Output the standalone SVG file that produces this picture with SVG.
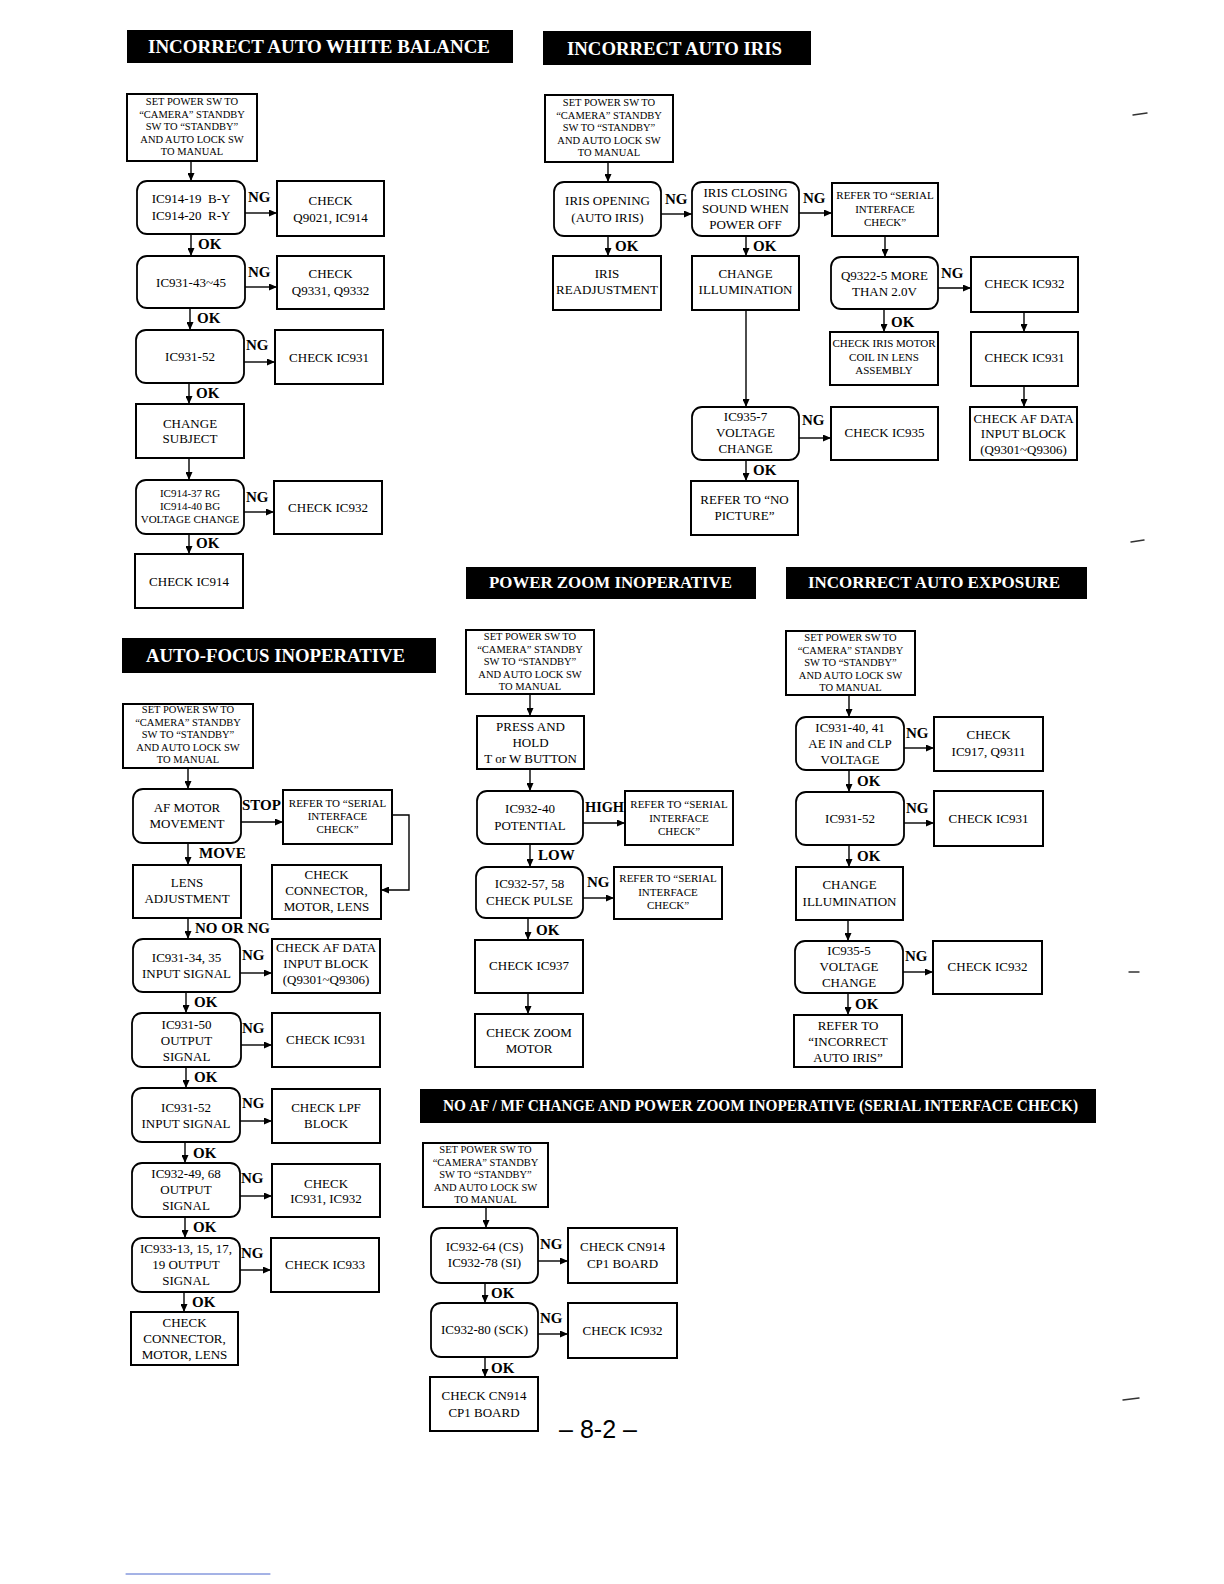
<svg xmlns="http://www.w3.org/2000/svg" width="1224" height="1584" viewBox="0 0 1224 1584">
<style>
.bg{fill:#fff}
.bar{fill:#000}
.ttl{font-family:"Liberation Serif",serif;font-weight:bold;font-size:19px;fill:#fff;text-anchor:middle}
.ttl2{font-family:"Liberation Serif",serif;font-weight:bold;font-size:17px;fill:#fff;text-anchor:middle}
.b{fill:#fff;stroke:#000;stroke-width:2}
.r{fill:#fff;stroke:#000;stroke-width:1.8}
.t{font-family:"Liberation Serif",serif;font-size:13px;fill:#000;text-anchor:middle;white-space:pre}
.s{font-family:"Liberation Serif",serif;font-size:10.5px;fill:#000;text-anchor:middle}
.m{font-family:"Liberation Serif",serif;font-size:11px;fill:#000;text-anchor:middle}
.lb{font-family:"Liberation Serif",serif;font-weight:bold;font-size:15px;fill:#000}
.c{fill:none;stroke:#000;stroke-width:1.4;marker-end:url(#ah)}
.pg{font-family:"Liberation Sans",Arial,sans-serif;font-size:25px;fill:#000;text-anchor:middle}
</style>
<defs>
<marker id="ah" markerUnits="userSpaceOnUse" markerWidth="8" markerHeight="7" refX="8" refY="3.5" orient="auto">
<path d="M0,0 L8,3.5 L0,7 z" fill="#000"/>
</marker>
</defs>
<rect class="bg" x="0" y="0" width="1224" height="1584"/>

<!-- Titles -->
<g id="titles">
<rect class="bar" x="127" y="30" width="386" height="33"/>
<text class="ttl" x="319" y="53" textLength="342" lengthAdjust="spacingAndGlyphs">INCORRECT AUTO WHITE BALANCE</text>
<rect class="bar" x="543" y="31" width="268" height="34"/>
<text class="ttl" x="674.5" y="55" textLength="215" lengthAdjust="spacingAndGlyphs">INCORRECT AUTO IRIS</text>
<rect class="bar" x="122" y="638" width="314" height="35"/>
<text class="ttl" x="275.5" y="662" textLength="259" lengthAdjust="spacingAndGlyphs">AUTO-FOCUS INOPERATIVE</text>
<rect class="bar" x="466" y="567" width="290" height="32"/>
<text class="ttl2" x="610.5" y="588" textLength="243" lengthAdjust="spacingAndGlyphs">POWER ZOOM INOPERATIVE</text>
<rect class="bar" x="786" y="567" width="301" height="32"/>
<text class="ttl2" x="934" y="588" textLength="252" lengthAdjust="spacingAndGlyphs">INCORRECT AUTO EXPOSURE</text>
<rect class="bar" x="420" y="1089" width="676" height="34"/>
<text class="ttl2" x="760.5" y="1111" textLength="635" lengthAdjust="spacingAndGlyphs">NO AF / MF CHANGE AND POWER ZOOM INOPERATIVE (SERIAL INTERFACE CHECK)</text>
</g>

<!-- Connectors -->
<g id="connectors">
<!-- AWB -->
<path class="c" d="M191,161 V181"/>
<path class="c" d="M245,213 H277"/>
<path class="c" d="M191,234 V256"/>
<path class="c" d="M245,287 H277"/>
<path class="c" d="M190,308 V330"/>
<path class="c" d="M244,362 H275"/>
<path class="c" d="M189,383 V404"/>
<path class="c" d="M189,458 V480"/>
<path class="c" d="M244,512 H274"/>
<path class="c" d="M189,534 V554"/>
<!-- Iris -->
<path class="c" d="M608,162 V182"/>
<path class="c" d="M661,214 H692"/>
<path class="c" d="M799,213 H832"/>
<path class="c" d="M608,236 V256"/>
<path class="c" d="M746,236 V256"/>
<path class="c" d="M746,310 V407"/>
<path class="c" d="M885,236 V257"/>
<path class="c" d="M938,288 H971"/>
<path class="c" d="M884,309 V332"/>
<path class="c" d="M1024,312 V332"/>
<path class="c" d="M1024,386 V407"/>
<path class="c" d="M799,438 H831"/>
<path class="c" d="M746,460 V481"/>
<!-- AF -->
<path class="c" d="M188,768 V789"/>
<path class="c" d="M241,822 H283"/>
<path class="c" d="M392,815 H409 V890 H381"/>
<path class="c" d="M188,843 V865"/>
<path class="c" d="M188,918 V939"/>
<path class="c" d="M240,973 H272"/>
<path class="c" d="M186,992 V1013"/>
<path class="c" d="M241,1045 H272"/>
<path class="c" d="M186,1067 V1088"/>
<path class="c" d="M240,1121 H272"/>
<path class="c" d="M185,1142 V1163"/>
<path class="c" d="M240,1196 H272"/>
<path class="c" d="M185,1217 V1238"/>
<path class="c" d="M240,1270 H271"/>
<path class="c" d="M184,1292 V1312"/>
<!-- PZ -->
<path class="c" d="M530,694 V716"/>
<path class="c" d="M530,769 V791"/>
<path class="c" d="M583,823 H625"/>
<path class="c" d="M530,844 V867"/>
<path class="c" d="M583,898 H614"/>
<path class="c" d="M528,918 V940"/>
<path class="c" d="M528,993 V1014"/>
<!-- AE -->
<path class="c" d="M849,695 V717"/>
<path class="c" d="M904,748 H934"/>
<path class="c" d="M849,770 V792"/>
<path class="c" d="M904,823 H934"/>
<path class="c" d="M849,845 V867"/>
<path class="c" d="M848,920 V941"/>
<path class="c" d="M903,972 H933"/>
<path class="c" d="M848,993 V1015"/>
<!-- Serial -->
<path class="c" d="M486,1207 V1228"/>
<path class="c" d="M538,1261 H568"/>
<path class="c" d="M485,1283 V1303"/>
<path class="c" d="M538,1334 H568"/>
<path class="c" d="M485,1357 V1377"/>
</g>

<!-- Connector labels -->
<g id="labels">
<text class="lb" x="248" y="202">NG</text>
<text class="lb" x="198" y="249">OK</text>
<text class="lb" x="248" y="277">NG</text>
<text class="lb" x="197" y="323">OK</text>
<text class="lb" x="246" y="350">NG</text>
<text class="lb" x="196" y="398">OK</text>
<text class="lb" x="246" y="502">NG</text>
<text class="lb" x="196" y="548">OK</text>

<text class="lb" x="665" y="204">NG</text>
<text class="lb" x="803" y="203">NG</text>
<text class="lb" x="615" y="251">OK</text>
<text class="lb" x="753" y="251">OK</text>
<text class="lb" x="941" y="278">NG</text>
<text class="lb" x="891" y="327">OK</text>
<text class="lb" x="802" y="425">NG</text>
<text class="lb" x="753" y="475">OK</text>

<text class="lb" x="242" y="810">STOP</text>
<text class="lb" x="199" y="858">MOVE</text>
<text class="lb" x="195" y="933">NO OR NG</text>
<text class="lb" x="242" y="960">NG</text>
<text class="lb" x="194" y="1007">OK</text>
<text class="lb" x="242" y="1033">NG</text>
<text class="lb" x="194" y="1082">OK</text>
<text class="lb" x="242" y="1108">NG</text>
<text class="lb" x="193" y="1158">OK</text>
<text class="lb" x="241" y="1183">NG</text>
<text class="lb" x="193" y="1232">OK</text>
<text class="lb" x="241" y="1258">NG</text>
<text class="lb" x="192" y="1307">OK</text>

<text class="lb" x="585" y="812" textLength="39" lengthAdjust="spacingAndGlyphs">HIGH</text>
<text class="lb" x="538" y="860">LOW</text>
<text class="lb" x="587" y="887">NG</text>
<text class="lb" x="536" y="935">OK</text>

<text class="lb" x="906" y="738">NG</text>
<text class="lb" x="857" y="786">OK</text>
<text class="lb" x="906" y="813">NG</text>
<text class="lb" x="857" y="861">OK</text>
<text class="lb" x="905" y="961">NG</text>
<text class="lb" x="855" y="1009">OK</text>

<text class="lb" x="540" y="1249">NG</text>
<text class="lb" x="491" y="1298">OK</text>
<text class="lb" x="540" y="1323">NG</text>
<text class="lb" x="491" y="1373">OK</text>
</g>

<!-- AWB nodes -->
<g id="awb-start"><rect class="b" x="127" y="94" width="130" height="67"/>
<text class="s" x="192" y="105">SET POWER SW TO</text><text class="s" x="192" y="117.5">“CAMERA” STANDBY</text><text class="s" x="192" y="130">SW TO “STANDBY”</text><text class="s" x="192" y="142.5">AND AUTO LOCK SW</text><text class="s" x="192" y="155">TO MANUAL</text></g>
<g id="awb-ic914-19"><rect class="r" x="137" y="181" width="108" height="53" rx="10"/>
<text class="t" x="191" y="203">IC914-19  B-Y</text><text class="t" x="191" y="220">IC914-20  R-Y</text></g>
<g id="awb-check-q9021"><rect class="b" x="277" y="181" width="107" height="55"/>
<text class="t" x="330.5" y="205">CHECK</text><text class="t" x="330.5" y="222">Q9021, IC914</text></g>
<g id="awb-ic931-43"><rect class="r" x="137" y="256" width="108" height="52" rx="10"/>
<text class="t" x="191" y="287">IC931-43~45</text></g>
<g id="awb-check-q9331"><rect class="b" x="277" y="256" width="107" height="53"/>
<text class="t" x="330.5" y="278">CHECK</text><text class="t" x="330.5" y="295">Q9331, Q9332</text></g>
<g id="awb-ic931-52"><rect class="r" x="136" y="330" width="108" height="53" rx="10"/>
<text class="t" x="190" y="361">IC931-52</text></g>
<g id="awb-check-ic931"><rect class="b" x="275" y="330" width="108" height="54"/>
<text class="t" x="329" y="362">CHECK IC931</text></g>
<g id="awb-change-subject"><rect class="b" x="136" y="404" width="108" height="54"/>
<text class="t" x="190" y="428">CHANGE</text><text class="t" x="190" y="443">SUBJECT</text></g>
<g id="awb-ic914-37"><rect class="r" x="136" y="480" width="108" height="54" rx="10"/>
<text class="m" x="190" y="497">IC914-37 RG</text><text class="m" x="190" y="510">IC914-40 BG</text><text class="m" x="190" y="523">VOLTAGE CHANGE</text></g>
<g id="awb-check-ic932"><rect class="b" x="274" y="481" width="108" height="53"/>
<text class="t" x="328" y="512">CHECK IC932</text></g>
<g id="awb-check-ic914"><rect class="b" x="135" y="554" width="108" height="54"/>
<text class="t" x="189" y="586">CHECK IC914</text></g>

<!-- Iris nodes -->
<g id="iris-start"><rect class="b" x="545" y="95" width="128" height="67"/>
<text class="s" x="609" y="106">SET POWER SW TO</text><text class="s" x="609" y="118.5">“CAMERA” STANDBY</text><text class="s" x="609" y="131">SW TO “STANDBY”</text><text class="s" x="609" y="143.5">AND AUTO LOCK SW</text><text class="s" x="609" y="156">TO MANUAL</text></g>
<g id="iris-opening"><rect class="r" x="554" y="182" width="107" height="54" rx="10"/>
<text class="t" x="607.5" y="205">IRIS OPENING</text><text class="t" x="607.5" y="222">(AUTO IRIS)</text></g>
<g id="iris-closing"><rect class="r" x="692" y="182" width="107" height="54" rx="10"/>
<text class="t" x="745.5" y="197">IRIS CLOSING</text><text class="t" x="745.5" y="213">SOUND WHEN</text><text class="t" x="745.5" y="229">POWER OFF</text></g>
<g id="iris-refer-serial"><rect class="b" x="832" y="183" width="106" height="53"/>
<text class="m" x="885" y="199">REFER TO “SERIAL</text><text class="m" x="885" y="213">INTERFACE</text><text class="m" x="885" y="226">CHECK”</text></g>
<g id="iris-readjust"><rect class="b" x="553" y="256" width="108" height="54"/>
<text class="t" x="607" y="278">IRIS</text><text class="t" x="607" y="294">READJUSTMENT</text></g>
<g id="iris-change-illum"><rect class="b" x="692" y="256" width="107" height="54"/>
<text class="t" x="745.5" y="278">CHANGE</text><text class="t" x="745.5" y="294">ILLUMINATION</text></g>
<g id="iris-q9322"><rect class="r" x="831" y="257" width="107" height="52" rx="10"/>
<text class="t" x="884.5" y="280">Q9322-5 MORE</text><text class="t" x="884.5" y="296">THAN 2.0V</text></g>
<g id="iris-check-ic932"><rect class="b" x="971" y="257" width="107" height="55"/>
<text class="t" x="1024.5" y="288">CHECK IC932</text></g>
<g id="iris-check-motor"><rect class="b" x="830" y="332" width="108" height="53"/>
<text class="m" x="884" y="347">CHECK IRIS MOTOR</text><text class="m" x="884" y="361">COIL IN LENS</text><text class="m" x="884" y="374">ASSEMBLY</text></g>
<g id="iris-check-ic931"><rect class="b" x="971" y="332" width="107" height="54"/>
<text class="t" x="1024.5" y="362">CHECK IC931</text></g>
<g id="iris-ic935-7"><rect class="r" x="692" y="407" width="107" height="53" rx="10"/>
<text class="t" x="745.5" y="421">IC935-7</text><text class="t" x="745.5" y="437">VOLTAGE</text><text class="t" x="745.5" y="453">CHANGE</text></g>
<g id="iris-check-ic935"><rect class="b" x="831" y="407" width="107" height="53"/>
<text class="t" x="884.5" y="437">CHECK IC935</text></g>
<g id="iris-check-afdata"><rect class="b" x="970" y="407" width="107" height="53"/>
<text class="t" x="1023.5" y="423">CHECK AF DATA</text><text class="t" x="1023.5" y="438">INPUT BLOCK</text><text class="t" x="1023.5" y="454">(Q9301~Q9306)</text></g>
<g id="iris-refer-nopic"><rect class="b" x="691" y="481" width="107" height="54"/>
<text class="t" x="744.5" y="504">REFER TO “NO</text><text class="t" x="744.5" y="520">PICTURE”</text></g>

<!-- AF nodes -->
<g id="af-start"><rect class="b" x="123" y="704" width="130" height="64"/>
<text class="s" x="188" y="713">SET POWER SW TO</text><text class="s" x="188" y="725.5">“CAMERA” STANDBY</text><text class="s" x="188" y="738">SW TO “STANDBY”</text><text class="s" x="188" y="750.5">AND AUTO LOCK SW</text><text class="s" x="188" y="763">TO MANUAL</text></g>
<g id="af-motor"><rect class="r" x="133" y="789" width="108" height="54" rx="10"/>
<text class="t" x="187" y="812">AF MOTOR</text><text class="t" x="187" y="828">MOVEMENT</text></g>
<g id="af-refer-serial"><rect class="b" x="283" y="790" width="109" height="54"/>
<text class="m" x="337.5" y="807">REFER TO “SERIAL</text><text class="m" x="337.5" y="820">INTERFACE</text><text class="m" x="337.5" y="833">CHECK”</text></g>
<g id="af-lens-adj"><rect class="b" x="133" y="865" width="108" height="53"/>
<text class="t" x="187" y="887">LENS</text><text class="t" x="187" y="903">ADJUSTMENT</text></g>
<g id="af-check-conn1"><rect class="b" x="272" y="865" width="109" height="54"/>
<text class="t" x="326.5" y="879">CHECK</text><text class="t" x="326.5" y="895">CONNECTOR,</text><text class="t" x="326.5" y="911">MOTOR, LENS</text></g>
<g id="af-ic931-34"><rect class="r" x="133" y="939" width="107" height="53" rx="10"/>
<text class="t" x="186.5" y="962">IC931-34, 35</text><text class="t" x="186.5" y="978">INPUT SIGNAL</text></g>
<g id="af-check-afdata"><rect class="b" x="272" y="939" width="108" height="54"/>
<text class="t" x="326" y="952">CHECK AF DATA</text><text class="t" x="326" y="968">INPUT BLOCK</text><text class="t" x="326" y="984">(Q9301~Q9306)</text></g>
<g id="af-ic931-50"><rect class="r" x="132" y="1013" width="109" height="54" rx="10"/>
<text class="t" x="186.5" y="1029">IC931-50</text><text class="t" x="186.5" y="1045">OUTPUT</text><text class="t" x="186.5" y="1061">SIGNAL</text></g>
<g id="af-check-ic931"><rect class="b" x="272" y="1013" width="108" height="54"/>
<text class="t" x="326" y="1044">CHECK IC931</text></g>
<g id="af-ic931-52"><rect class="r" x="132" y="1088" width="108" height="54" rx="10"/>
<text class="t" x="186" y="1112">IC931-52</text><text class="t" x="186" y="1128">INPUT SIGNAL</text></g>
<g id="af-check-lpf"><rect class="b" x="272" y="1089" width="108" height="54"/>
<text class="t" x="326" y="1112">CHECK LPF</text><text class="t" x="326" y="1128">BLOCK</text></g>
<g id="af-ic932-49"><rect class="r" x="132" y="1163" width="108" height="54" rx="10"/>
<text class="t" x="186" y="1178">IC932-49, 68</text><text class="t" x="186" y="1194">OUTPUT</text><text class="t" x="186" y="1210">SIGNAL</text></g>
<g id="af-check-ic931-932"><rect class="b" x="272" y="1164" width="108" height="53"/>
<text class="t" x="326" y="1188">CHECK</text><text class="t" x="326" y="1203">IC931, IC932</text></g>
<g id="af-ic933"><rect class="r" x="132" y="1238" width="108" height="54" rx="10"/>
<text class="t" x="186" y="1253">IC933-13, 15, 17,</text><text class="t" x="186" y="1269">19 OUTPUT</text><text class="t" x="186" y="1285">SIGNAL</text></g>
<g id="af-check-ic933"><rect class="b" x="271" y="1238" width="108" height="54"/>
<text class="t" x="325" y="1269">CHECK IC933</text></g>
<g id="af-check-conn2"><rect class="b" x="131" y="1312" width="107" height="53"/>
<text class="t" x="184.5" y="1327">CHECK</text><text class="t" x="184.5" y="1343">CONNECTOR,</text><text class="t" x="184.5" y="1359">MOTOR, LENS</text></g>

<!-- PZ nodes -->
<g id="pz-start"><rect class="b" x="466" y="630" width="128" height="64"/>
<text class="s" x="530" y="640">SET POWER SW TO</text><text class="s" x="530" y="652.5">“CAMERA” STANDBY</text><text class="s" x="530" y="665">SW TO “STANDBY”</text><text class="s" x="530" y="677.5">AND AUTO LOCK SW</text><text class="s" x="530" y="690">TO MANUAL</text></g>
<g id="pz-press"><rect class="b" x="477" y="716" width="107" height="53"/>
<text class="t" x="530.5" y="731">PRESS AND</text><text class="t" x="530.5" y="747">HOLD</text><text class="t" x="530.5" y="763">T or W BUTTON</text></g>
<g id="pz-ic932-40"><rect class="r" x="477" y="791" width="106" height="53" rx="10"/>
<text class="t" x="530" y="813">IC932-40</text><text class="t" x="530" y="830">POTENTIAL</text></g>
<g id="pz-refer1"><rect class="b" x="625" y="791" width="108" height="54"/>
<text class="m" x="679" y="808">REFER TO “SERIAL</text><text class="m" x="679" y="822">INTERFACE</text><text class="m" x="679" y="835">CHECK”</text></g>
<g id="pz-ic932-57"><rect class="r" x="476" y="867" width="107" height="51" rx="10"/>
<text class="t" x="529.5" y="888">IC932-57, 58</text><text class="t" x="529.5" y="905">CHECK PULSE</text></g>
<g id="pz-refer2"><rect class="b" x="614" y="867" width="108" height="52"/>
<text class="m" x="668" y="882">REFER TO “SERIAL</text><text class="m" x="668" y="896">INTERFACE</text><text class="m" x="668" y="909">CHECK”</text></g>
<g id="pz-check-ic937"><rect class="b" x="475" y="940" width="108" height="53"/>
<text class="t" x="529" y="970">CHECK IC937</text></g>
<g id="pz-check-zoom"><rect class="b" x="475" y="1014" width="108" height="53"/>
<text class="t" x="529" y="1037">CHECK ZOOM</text><text class="t" x="529" y="1053">MOTOR</text></g>

<!-- AE nodes -->
<g id="ae-start"><rect class="b" x="786" y="631" width="129" height="64"/>
<text class="s" x="850.5" y="641">SET POWER SW TO</text><text class="s" x="850.5" y="653.5">“CAMERA” STANDBY</text><text class="s" x="850.5" y="666">SW TO “STANDBY”</text><text class="s" x="850.5" y="678.5">AND AUTO LOCK SW</text><text class="s" x="850.5" y="691">TO MANUAL</text></g>
<g id="ae-ic931-40"><rect class="r" x="796" y="717" width="108" height="53" rx="10"/>
<text class="t" x="850" y="732">IC931-40, 41</text><text class="t" x="850" y="748">AE IN and CLP</text><text class="t" x="850" y="764">VOLTAGE</text></g>
<g id="ae-check-ic917"><rect class="b" x="934" y="717" width="109" height="54"/>
<text class="t" x="988.5" y="739">CHECK</text><text class="t" x="988.5" y="756">IC917, Q9311</text></g>
<g id="ae-ic931-52"><rect class="r" x="796" y="792" width="108" height="53" rx="10"/>
<text class="t" x="850" y="823">IC931-52</text></g>
<g id="ae-check-ic931"><rect class="b" x="934" y="791" width="109" height="55"/>
<text class="t" x="988.5" y="823">CHECK IC931</text></g>
<g id="ae-change-illum"><rect class="b" x="796" y="867" width="107" height="53"/>
<text class="t" x="849.5" y="889">CHANGE</text><text class="t" x="849.5" y="906">ILLUMINATION</text></g>
<g id="ae-ic935-5"><rect class="r" x="795" y="941" width="108" height="52" rx="10"/>
<text class="t" x="849" y="955">IC935-5</text><text class="t" x="849" y="971">VOLTAGE</text><text class="t" x="849" y="987">CHANGE</text></g>
<g id="ae-check-ic932"><rect class="b" x="933" y="941" width="109" height="53"/>
<text class="t" x="987.5" y="971">CHECK IC932</text></g>
<g id="ae-refer-iris"><rect class="b" x="794" y="1015" width="108" height="52"/>
<text class="t" x="848" y="1030">REFER TO</text><text class="t" x="848" y="1046">“INCORRECT</text><text class="t" x="848" y="1062">AUTO IRIS”</text></g>

<!-- Serial nodes -->
<g id="si-start"><rect class="b" x="423" y="1143" width="125" height="64"/>
<text class="s" x="485.5" y="1153">SET POWER SW TO</text><text class="s" x="485.5" y="1165.5">“CAMERA” STANDBY</text><text class="s" x="485.5" y="1178">SW TO “STANDBY”</text><text class="s" x="485.5" y="1190.5">AND AUTO LOCK SW</text><text class="s" x="485.5" y="1203">TO MANUAL</text></g>
<g id="si-ic932-64"><rect class="r" x="431" y="1228" width="107" height="55" rx="10"/>
<text class="t" x="484.5" y="1251">IC932-64 (CS)</text><text class="t" x="484.5" y="1267">IC932-78 (SI)</text></g>
<g id="si-check-cn914a"><rect class="b" x="568" y="1228" width="109" height="55"/>
<text class="t" x="622.5" y="1251">CHECK CN914</text><text class="t" x="622.5" y="1268">CP1 BOARD</text></g>
<g id="si-ic932-80"><rect class="r" x="431" y="1303" width="107" height="54" rx="10"/>
<text class="t" x="484.5" y="1334">IC932-80 (SCK)</text></g>
<g id="si-check-ic932"><rect class="b" x="568" y="1303" width="109" height="55"/>
<text class="t" x="622.5" y="1335">CHECK IC932</text></g>
<g id="si-check-cn914b"><rect class="b" x="430" y="1377" width="108" height="54"/>
<text class="t" x="484" y="1400">CHECK CN914</text><text class="t" x="484" y="1417">CP1 BOARD</text></g>

<text class="pg" x="598" y="1438">– 8-2 –</text>

<g id="marks" stroke-linecap="round">
<line x1="1133" y1="115" x2="1147" y2="113" stroke="#333" stroke-width="1.4"/>
<line x1="1131" y1="542" x2="1144" y2="540" stroke="#333" stroke-width="1.4"/>
<line x1="1129" y1="972" x2="1139" y2="972" stroke="#333" stroke-width="1.4"/>
<line x1="1123" y1="1400" x2="1139" y2="1398" stroke="#333" stroke-width="1.4"/>
<line x1="126" y1="1574" x2="270" y2="1574" stroke="#4a66cc" stroke-width="1"/>
</g>
</svg>
